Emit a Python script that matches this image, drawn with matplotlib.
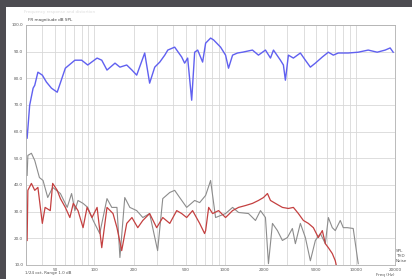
import matplotlib
matplotlib.use("Agg")
import matplotlib.pyplot as plt
from matplotlib.patches import Rectangle
from matplotlib.ticker import FixedLocator, NullFormatter

# ---- data (frequency in Hz, level in dB) ----
spl_freq = [30, 30.6, 32, 34, 35, 37, 40, 43, 47, 52, 60, 71, 80, 89, 105, 114, 125, 144,
            157, 177, 194, 211, 243, 265, 290, 317, 346, 365, 412, 466, 491, 518, 556, 586,
            618, 674, 711, 776, 818, 925, 1010, 1064, 1143, 1247, 1361, 1622, 1803, 2040,
            2229, 2349, 2656, 2799, 2899, 3056, 3337, 3774, 4122, 4501, 4915, 5557, 6179,
            6745, 7362, 8770, 10460, 12470, 14620, 16830, 18360, 19360]
spl_db = [60.5, 57.5, 69.9, 76.3, 77.4, 82.3, 81.2, 78.6, 76.3, 74.8, 83.8, 86.8, 86.8, 85.0,
          87.6, 86.8, 83.1, 85.7, 84.2, 85.0, 83.1, 81.2, 89.5, 78.2, 84.2, 86.1, 88.7, 90.6,
          91.7, 88.0, 85.7, 87.6, 71.8, 89.8, 90.6, 86.1, 93.2, 95.1, 94.4, 91.7, 88.7, 83.8,
          88.7, 89.5, 89.8, 90.6, 88.7, 90.6, 87.6, 90.6, 86.8, 85.0, 79.3, 88.7, 87.6, 89.5,
          86.8, 84.2, 85.7, 88.0, 89.8, 88.7, 89.5, 89.5, 89.8, 90.6, 89.8, 90.6, 91.4, 89.8]

noise_freq = [30.6, 31, 33, 35, 38, 40.5, 44, 48, 55, 62, 67, 71, 75, 82, 89, 98, 110, 125,
              136, 149, 157, 171, 187, 211, 235, 265, 305, 334, 378, 412, 450, 509, 586, 640,
              711, 776, 847, 1010, 1143, 1270, 1513, 1711, 1868, 2040, 2151, 2308, 2520, 2750,
              3003, 3279, 3456, 3774, 4122, 4501, 4915, 5367, 5860, 6179, 6624, 6982, 7624,
              8038, 8629, 9575, 10460]
noise_db = [43.6, 51.1, 51.9, 49.2, 42.8, 41.7, 35.3, 39.1, 36.8, 31.6, 36.8, 30.4, 34.2, 33.1,
            31.6, 26.7, 21.8, 34.9, 31.6, 31.6, 12.8, 35.3, 31.6, 30.4, 27.8, 29.3, 15.4, 34.9,
            37.2, 38.0, 35.3, 31.6, 34.2, 33.4, 36.1, 41.7, 27.8, 29.3, 31.6, 29.7, 29.3, 26.7,
            30.4, 27.8, 10.5, 25.6, 22.9, 19.2, 20.3, 23.7, 18.0, 25.6, 20.3, 11.6, 19.2, 21.8,
            18.0, 27.8, 24.0, 22.9, 26.7, 24.0, 24.0, 23.7, 10.5]

thd_freq = [30.6, 31, 33, 35, 37, 40, 42, 46, 48, 52, 55, 60, 65, 69, 75, 82, 88, 96, 105,
            114, 125, 139, 149, 162, 177, 194, 215, 235, 265, 300, 334, 378, 427, 466, 509,
            565, 640, 698, 711, 750, 804, 893, 1010, 1143, 1270, 1435, 1622, 1803, 1970, 2113,
            2229, 2433, 2750, 3056, 3337, 3644, 3980, 4346, 4746, 5182, 5557, 5860, 6179,
            6624, 6982, 7100]
thd_db = [19.2, 38.0, 40.6, 38.0, 39.1, 25.6, 31.6, 30.4, 40.6, 38.0, 34.9, 31.6, 27.8, 33.1,
          30.4, 24.0, 31.6, 27.8, 31.6, 16.5, 31.6, 29.3, 24.0, 15.4, 25.6, 27.8, 24.0, 26.7,
          29.3, 24.0, 27.8, 25.6, 30.4, 29.3, 27.8, 30.4, 25.6, 21.8, 22.9, 31.6, 29.3, 30.4,
          27.8, 30.4, 31.6, 32.3, 33.1, 34.2, 35.3, 36.8, 34.2, 33.1, 31.6, 31.2, 31.6, 29.3,
          26.7, 25.6, 24.0, 20.3, 22.9, 18.0, 16.5, 14.3, 11.6, 10.0]

x_ticks = [50, 100, 200, 500, 1000, 2000, 5000, 10000, 20000]
x_labels = ["50", "100", "200", "500", "1000", "2000", "5000", "10000", "20000"]
y_ticks = [10, 20, 30, 40, 50, 60, 70, 80, 90, 100]
y_labels = ["%.1f" % v for v in y_ticks]

W, H = 412, 279
fig = plt.figure(figsize=(W / 100, H / 100), dpi=100)
fig.patch.set_facecolor("#4d4c51")
bg = Rectangle((6 / W, 0), 1, 1 - 7 / H, transform=fig.transFigure,
               facecolor="white", edgecolor="none", zorder=-10)
fig.add_artist(bg)

ax = fig.add_axes([26 / W, 1 - 265 / H, (395 - 26) / W, (265 - 25) / H])
ax.set_zorder(1)
ax.set_xscale("log")
ax.set_xlim(30, 20000)
ax.set_ylim(10, 100)

minor = [m * 10 ** e for e in range(1, 5) for m in range(1, 10)]
ax.xaxis.set_major_locator(FixedLocator(x_ticks))
ax.xaxis.set_minor_locator(FixedLocator(minor))
ax.xaxis.set_minor_formatter(NullFormatter())
ax.set_xticks(x_ticks)
ax.set_xticklabels(x_labels)
ax.set_yticks(y_ticks)
ax.set_yticklabels(y_labels)
ax.grid(True, which="both", axis="x", color="#d8d8d8", lw=0.6)
ax.grid(True, which="major", axis="y", color="#d8d8d8", lw=0.6)
ax.tick_params(axis="both", which="both", length=0, labelsize=3, labelcolor="#555555", pad=2)
for s in ax.spines.values():
    s.set_color("#b0b0b0")
    s.set_linewidth(0.6)

ax.plot(noise_freq, noise_db, color="#8c8c8c", lw=0.8)
ax.plot(thd_freq, thd_db, color="#c44040", lw=0.9)
ax.plot(spl_freq, spl_db, color="#6060f0", lw=1.0)

fig.text(28 / W, 1 - 22 / H, "FR magnitude dB SPL", fontsize=3, color="#444444", va="bottom")
fig.text(24 / W, 1 - 12 / H, "Frequency response and distortion", fontsize=3,
         color="#dddddd", va="center")
fig.text(25 / W, 1 - 273 / H, "1/24 oct, Range 1.0 dB", fontsize=3, color="#555555",
         va="center")
fig.text(395 / W, 1 - 275 / H, "Freq (Hz)", fontsize=3, color="#555555", va="center",
         ha="right")
for i, t in enumerate(["SPL", "THD", "Noise"]):
    fig.text(396 / W, 1 - (251 + 5 * i) / H, t, fontsize=3, color="#555555", va="center")

fig.savefig("out.png", dpi=100, facecolor=fig.get_facecolor())
